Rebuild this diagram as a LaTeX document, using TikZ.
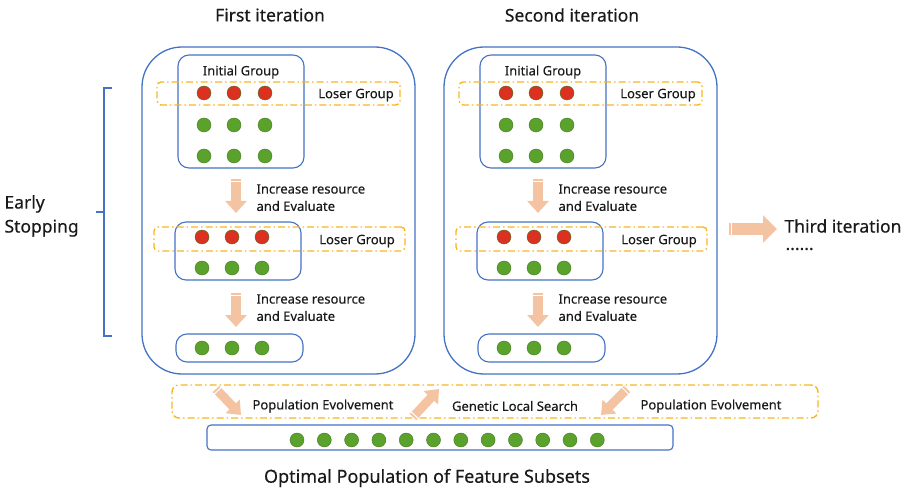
\documentclass[tikz,border=0pt]{standalone}
\usepackage{fontspec}
\setmainfont{Noto Sans}[FakeBold=0.35]
\usetikzlibrary{arrows.meta,calc}
\definecolor{boxblue}{HTML}{4472C4}
\definecolor{gold}{HTML}{F9B51E}
\definecolor{dotred}{HTML}{DC3020}
\definecolor{dotgreen}{HTML}{5AA22C}
\definecolor{peach}{HTML}{F4C4A2}
\definecolor{ink}{HTML}{1A1A1A}
\newcommand\fatarrow[4]{% from, to, shaft width, head width
  \draw[peach, line width=#3, -{Triangle[length=12pt,width=#4]}] (#1) -- (#2);
  \draw[white, line width=#3+1pt] ($(#1)!2pt!(#2)$) -- ($(#1)!3pt!(#2)$);
}
\begin{document}
\begin{tikzpicture}[x=1pt,y=-1pt,
  every node/.style={text=ink},
  bigbox/.style={draw=boxblue, line width=1.3pt, rounded corners=40pt, inner sep=0pt},
  grpbox/.style={draw=boxblue, line width=1.1pt, rounded corners=11pt, inner sep=0pt},
  loserbox/.style={draw=gold, line width=1.4pt, rounded corners=4pt, inner sep=0pt,
    dash pattern=on 7pt off 3pt on 1.5pt off 3pt},
  reddot/.style={circle, fill=dotred, draw=dotgreen!70!black, line width=0.4pt, minimum size=14pt, inner sep=0pt},
  greendot/.style={circle, fill=dotgreen, draw=dotgreen!75!black, line width=0.4pt, minimum size=14pt, inner sep=0pt},
  lbl/.style={font=\fontsize{13}{15}\selectfont},
  title/.style={font=\fontsize{17.5}{20}\selectfont}]
\useasboundingbox (0,0) rectangle (914,492);

% iteration columns
\foreach \c/\dx/\tt in {1/0/First iteration, 2/302/Second iteration}{
  \node[title] (title\c) at (270+\dx,15) {\tt};
  \node[bigbox, minimum width=273pt, minimum height=327pt] (big\c) at (278.5+\dx,210.5) {};
  % initial group
  \node[grpbox, minimum width=126pt, minimum height=113pt] (init\c) at (241+\dx,111.5) {};
  \node[lbl] (initlbl\c) at (241+\dx,72) {Initial Group};
  \node[loserbox, minimum width=243pt, minimum height=23pt] (losa\c) at (278.5+\dx,93.5) {};
  \node[lbl] (losalbl\c) at (356+\dx,95) {Loser Group};
  \foreach \i/\xx in {1/204,2/234,3/265}{
    \node[reddot] (ra\c\i) at (\xx+\dx,93) {};
    \node[greendot] (ga\c\i) at (\xx+\dx,125) {};
    \node[greendot] (gb\c\i) at (\xx+\dx,156) {};
  }
  % first resource step
  \coordinate (s1a\c) at (236+\dx,179);
  \coordinate (s1b\c) at (236+\dx,213);
  \fatarrow{s1a\c}{s1b\c}{10pt}{21pt}
  \node[lbl, anchor=west] (inc1\c) at (253+\dx,189) {Increase resource};
  \node[lbl, anchor=west] (eva1\c) at (253+\dx,206) {and Evaluate};
  % survivors after first step
  \node[grpbox, minimum width=126pt, minimum height=58pt] (mid\c) at (238+\dx,251) {};
  \node[loserbox, minimum width=251pt, minimum height=24pt] (losb\c) at (279.5+\dx,239) {};
  \node[lbl] (losblbl\c) at (357+\dx,241) {Loser Group};
  \foreach \i/\xx in {1/202,2/232,3/262}{
    \node[reddot] (rb\c\i) at (\xx+\dx,237) {};
    \node[greendot] (gc\c\i) at (\xx+\dx,268) {};
  }
  % second resource step
  \coordinate (s2a\c) at (236+\dx,293);
  \coordinate (s2b\c) at (236+\dx,327);
  \fatarrow{s2a\c}{s2b\c}{10pt}{21pt}
  \node[lbl, anchor=west] (inc2\c) at (253+\dx,299) {Increase resource};
  \node[lbl, anchor=west] (eva2\c) at (253+\dx,316) {and Evaluate};
  % final survivors
  \node[grpbox, minimum width=127pt, minimum height=28pt] (fin\c) at (239.5+\dx,348) {};
  \foreach \i/\xx in {1/202,2/232,3/262}{
    \node[greendot] (gd\c\i) at (\xx+\dx,348) {};
  }
}

% next iteration
\coordinate (nx1) at (729,229);
\coordinate (nx2) at (777,229);
\draw[peach, line width=12pt, -{Triangle[length=14pt,width=27pt]}] (nx1) -- (nx2);
\draw[white, line width=13pt] ($(nx1)!2pt!(nx2)$) -- ($(nx1)!3pt!(nx2)$);
\node[title, anchor=west] (third) at (781,226) {Third iteration};
\node[title, anchor=west, inner ysep=0pt] (dots) at (782,249) {......};

% early stopping bracket
\coordinate (bt) at (112,88);
\coordinate (btc) at (104,88);
\coordinate (bbc) at (104,336);
\coordinate (bb) at (112,336);
\coordinate (bm) at (104,212);
\coordinate (bml) at (96,212);
\draw[boxblue, line width=1.5pt] (bt) -- (btc) -- (bbc) -- (bb);
\draw[boxblue, line width=1.5pt] (bm) -- (bml);
\node[title, anchor=west, align=left, font=\fontsize{17.5}{24}\selectfont] (early) at (1,216) {Early\\Stopping};

% evolution band
\node[loserbox, minimum width=646pt, minimum height=33pt, rounded corners=7pt] (evo) at (495,401.5) {};
\node[lbl] (pe1) at (323,406) {Population Evolvement};
\node[lbl] (gls) at (515,406) {Genetic Local Search};
\node[lbl] (pe2) at (711,406) {Population Evolvement};
\coordinate (e1s) at (216,389);
\coordinate (e1e) at (241,415);
\coordinate (e2s) at (413,417);
\coordinate (e2e) at (439,389);
\coordinate (e3s) at (627,389);
\coordinate (e3e) at (601,415);
\fatarrow{e1s}{e1e}{9pt}{19pt}
\fatarrow{e2s}{e2e}{9pt}{19pt}
\fatarrow{e3s}{e3e}{9pt}{19pt}

% final population
\node[grpbox, rounded corners=4pt, minimum width=466pt, minimum height=25pt] (pop) at (440,437.5) {};
\foreach \i in {0,...,11}{
  \node[greendot] (p\i) at (297+\i*27.3,440) {};
}
\node[title, font=\fontsize{18}{20}\selectfont] (optimal) at (427,478) {Optimal Population of Feature Subsets};
\end{tikzpicture}
\end{document}
